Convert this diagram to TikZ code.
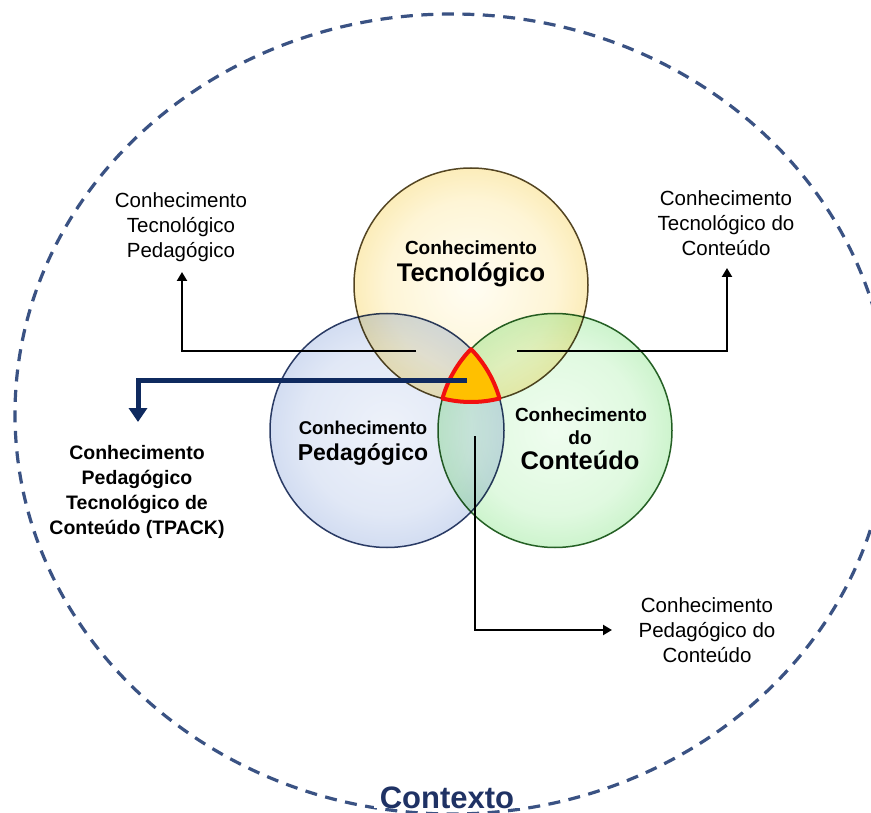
\documentclass[tikz,border=0pt]{standalone}
\usepackage{fontspec}
\setmainfont{Liberation Sans}
\usetikzlibrary{arrows.meta}

% palette
\definecolor{ctxblue}{HTML}{3A5283}
\definecolor{ctxtext}{HTML}{1F3264}
\definecolor{navy}{HTML}{0F2A5F}
\definecolor{tpackorange}{HTML}{FFC000}
\definecolor{tpackred}{HTML}{F21010}
% technological knowledge (yellow)
\definecolor{yA}{HTML}{FFFDF3}
\definecolor{yB}{HTML}{FEF5D6}
\definecolor{yC}{HTML}{F9E39A}
\definecolor{yD}{HTML}{F0CB60}
\definecolor{yE}{HTML}{DDB03A}
\definecolor{yLine}{HTML}{55492A}
% pedagogical knowledge (blue)
\definecolor{bA}{HTML}{EEF2FA}
\definecolor{bB}{HTML}{E1E8F6}
\definecolor{bC}{HTML}{C2D0EC}
\definecolor{bD}{HTML}{9CB1DC}
\definecolor{bE}{HTML}{839CCF}
\definecolor{bLine}{HTML}{2F4068}
% content knowledge (green)
\definecolor{gA}{HTML}{EFFDEF}
\definecolor{gB}{HTML}{E0F9E0}
\definecolor{gC}{HTML}{B8EEB8}
\definecolor{gD}{HTML}{86DA86}
\definecolor{gE}{HTML}{6CCB6C}
\definecolor{gLine}{HTML}{2A632A}

\pgfdeclareradialshading{glassyellow}{\pgfpoint{0bp}{0bp}}{color(0bp)=(yA); color(18bp)=(yB); color(33bp)=(yC); color(45bp)=(yD); color(50bp)=(yE)}
\pgfdeclareradialshading{glassblue}{\pgfpoint{0bp}{0bp}}{color(0bp)=(bA); color(18bp)=(bB); color(33bp)=(bC); color(45bp)=(bD); color(50bp)=(bE)}
\pgfdeclareradialshading{glassgreen}{\pgfpoint{0bp}{0bp}}{color(0bp)=(gA); color(18bp)=(gB); color(33bp)=(gC); color(45bp)=(gD); color(50bp)=(gE)}

\tikzset{
  ctx/.style={draw=ctxblue, line width=3.2pt, dash pattern=on 12pt off 8.5pt},
  ring/.style={circle, minimum size=234pt, inner sep=0pt, line width=1.5pt},
  conn/.style={draw=black, line width=2.8pt, -{Triangle[width=10pt,length=9pt]}},
  tpackconn/.style={draw=navy, line width=5pt, -{Triangle[width=18pt,length=14pt]}},
  lbl/.style={align=center, font=\fontsize{20.5}{25}\selectfont, inner sep=0pt},
  lblbold/.style={align=center, font=\bfseries\fontsize{19.5}{25}\selectfont, inner sep=0pt},
  ttl/.style={anchor=base, inner sep=0pt, font=\bfseries\fontsize{19}{19}\selectfont},
  ttlbig/.style={anchor=base, inner sep=0pt, font=\bfseries\fontsize{#1}{#1}\selectfont},
}

\begin{document}
\begin{tikzpicture}[x=1pt, y=1pt]
  \fill[white] (0,0) rectangle (871,-813);
  \useasboundingbox (0,0) rectangle (871,-813);

  % context boundary
  \draw[ctx] (452,-414) ellipse [x radius=437, y radius=400];

  % the three knowledge domains
  \begin{scope}[blend mode=multiply]
    \node[ring, shade, shading=glassyellow, draw=yLine] (tec) at (471,-285) {};
    \node[ring, shade, shading=glassblue, draw=bLine] (ped) at (387,-430.5) {};
    \node[ring, shade, shading=glassgreen, draw=gLine] (con) at (555,-430.5) {};
  \end{scope}

  % TPACK: intersection of the three domains
  \fill[tpackorange] (471,-349.06)
    arc[start angle=135.89, end angle=164.11, radius=117]
    arc[start angle=255.89, end angle=284.11, radius=117]
    arc[start angle=15.89, end angle=44.11, radius=117] -- cycle;
  \draw[tpackred, line width=4pt, line join=round] (471,-349.06)
    arc[start angle=135.89, end angle=164.11, radius=117]
    arc[start angle=255.89, end angle=284.11, radius=117]
    arc[start angle=15.89, end angle=44.11, radius=117] -- cycle;

  % domain titles
  \node[ttl] (tec1) at (471,-255) {Conhecimento};
  \node[ttlbig=25.5] (tec2) at (471,-282) {Tecnológico};
  \node[ttl, font=\bfseries\fontsize{18.5}{18.5}\selectfont] (ped1) at (363,-434.7) {Conhecimento};
  \node[ttlbig=23] (ped2) at (363,-460) {Pedagógico};
  \node[ttl] (con1) at (581,-421.8) {Conhecimento};
  \node[ttl] (con2) at (580,-444) {do};
  \node[ttlbig=25.5] (con3) at (580,-469) {Conteúdo};

  % connector end points
  \coordinate (tpkS) at (416,-351);
  \coordinate (tpkT) at (182,-272);
  \coordinate (tckS) at (517,-351);
  \coordinate (tckT) at (727,-268);
  \coordinate (pckS) at (475,-436);
  \coordinate (pckT) at (612,-630);
  \coordinate (tpackS) at (467,-380);
  \coordinate (tpackT) at (138,-422);

  % labels
  \node[lbl] (tpk) at (181,-227) {Conhecimento\\Tecnológico\\Pedagógico};
  \node[lbl] (tck) at (726,-223) {Conhecimento\\Tecnológico do\\Conteúdo};
  \node[lbl] (pck) at (707,-630) {Conhecimento\\Pedagógico do\\Conteúdo};
  \node[lblbold] (tpack) at (137,-491.5) {Conhecimento\\Pedagógico\\Tecnológico de\\Conteúdo (TPACK)};

  % connectors
  \draw[conn] (tpkS) -| (tpkT);
  \draw[conn] (tckS) -| (tckT);
  \draw[conn] (pckS) |- (pckT);
  \draw[tpackconn] (tpackS) -| (tpackT);

  % context caption
  \node[anchor=base, fill=white, inner xsep=6pt, inner ysep=0pt, text=ctxtext,
        font=\bfseries\fontsize{31}{31}\selectfont] (ctxlabel) at (447,-808) {Contexto};
\end{tikzpicture}
\end{document}
